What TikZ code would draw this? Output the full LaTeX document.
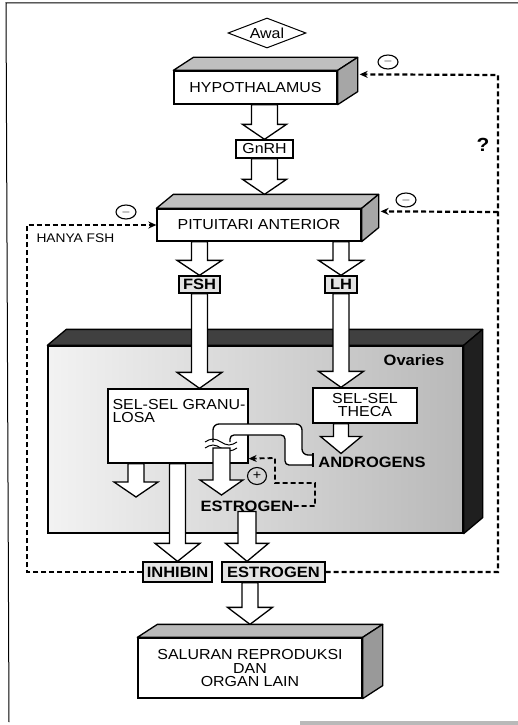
\documentclass[tikz,border=0pt]{standalone}
\usepackage{fontspec}
\setmainfont{Liberation Sans}[FakeStretch=1.1]
\usetikzlibrary{arrows.meta,calc,shapes.geometric}

\newcommand\bodyfont{\fontsize{14.5}{13}\selectfont}
\newcommand\tagfont{\fontsize{15}{15}\selectfont\bfseries}

% hollow block arrow: start, tip, half shaft, half head, head length
\newcommand\blockarrow[5]{%
  \draw[blockarrow] let \p1=#1, \p2=#2 in
    (\x1-#3,\y1) -- (\x1-#3,\y2+#5) -- (\x1-#4,\y2+#5) -- (\x1,\y2)
    -- (\x1+#4,\y2+#5) -- (\x1+#3,\y2+#5) -- (\x1+#3,\y1) -- cycle;}

% top and right faces of a box node: node, dx, dy, top fill, side fill
\newcommand\slab[5]{%
  \filldraw[fill=#4, line width=1.3pt, line join=round] (#1.north west) -- ++(#2,#3)
    -- ([shift={(#2,#3)}]#1.north east) -- (#1.north east) -- cycle;
  \filldraw[fill=#5, line width=1.3pt, line join=round] (#1.north east) -- ++(#2,#3)
    -- ([shift={(#2,#3)}]#1.south east) -- (#1.south east) -- cycle;
  \coordinate (#1back) at ([shift={(#2,#3)}]#1.north);}

\tikzset{
  box/.style={draw, line width=1.3pt, fill=white, inner sep=0pt, font=\bodyfont},
  tag/.style={box, fill=gray!22, font=\tagfont},
  blockarrow/.style={fill=white, line width=1.3pt, line join=miter},
  fbdash/.style={line width=2.2pt, dash pattern=on 5pt off 3pt, line join=miter,
    -{Stealth[length=8pt,width=7pt]}},
  sign/.style={draw, ellipse, line width=1.1pt, inner sep=0pt, minimum width=20pt,
    minimum height=14pt, font=\fontsize{13}{13}\selectfont},
}

\begin{document}
\begin{tikzpicture}[x=1pt,y=-1pt]
  \useasboundingbox (0,0) rectangle (518,725);
  \draw[line width=1pt] (518,3) -- (6,3) -- (9,722);
  \fill[gray!55] (300,721) rectangle (518,725);

  % hypothalamus
  \node[draw, diamond, aspect=2.6, line width=1pt, inner sep=0pt, minimum width=78,
    minimum height=30, font=\bodyfont] (awal) at (267,33) {Awal};
  \node[box, minimum width=163, minimum height=33] (hypo) at (255.5,87.5) {HYPOTHALAMUS};
  \slab{hypo}{20}{-13}{gray!50}{gray!70}
  \node[box, minimum width=57, minimum height=18] (gnrh) at (264.5,149) {GnRH};
  \blockarrow{(hypo.south -| gnrh.north)}{(gnrh.north)}{13}{22}{15}

  % pituitary
  \node[box, minimum width=204, minimum height=32] (pit) at (259,225) {PITUITARI ANTERIOR};
  \slab{pit}{17}{-14}{gray!50}{gray!70}
  \blockarrow{(gnrh.south)}{(gnrh.south |- pitback)}{13}{22}{15}
  \node[tag, minimum width=41, minimum height=17] (fsh) at (199.5,284.5) {FSH};
  \node[tag, minimum width=32, minimum height=17] (lh) at (341,284.5) {LH};
  \blockarrow{(pit.south -| fsh.north)}{(fsh.north)}{8}{22.5}{15}
  \blockarrow{(pit.south -| lh.north)}{(lh.north)}{8}{22.5}{15}

  % ovary
  \node[box, minimum width=415, minimum height=187, left color=gray!10,
    right color=gray!55] (ovary) at (255.5,439.5) {};
  \slab{ovary}{19}{-16}{black!75}{black!88}
  \node[font=\tagfont] (ovlbl) at (414,360) {Ovaries};
  \node[box, minimum width=140, minimum height=74] (gran) at (178,426) {};
  \node[box, minimum width=104, minimum height=35, align=center] (theca) at (365,405.5) {SEL-SEL\\THECA};
  \node[anchor=north west, align=left, inner sep=0pt, font=\bodyfont] (grantxt)
    at ([xshift=5pt,yshift=-11pt]gran.north west) {SEL-SEL GRANU-\\LOSA};
  \blockarrow{(fsh.south)}{(fsh.south |- gran.north)}{8}{22.5}{16}
  \blockarrow{(lh.south)}{(lh.south |- theca.north)}{8}{22.5}{16}
  \node[font=\tagfont, inner sep=0pt] (andro) at (372,462) {ANDROGENS};
  \blockarrow{(theca.south -| lh.south)}{([yshift=3pt]lh.south |- andro.north)}{7.5}{20.5}{17}

  % androgen tube into the granulosa cells
  \fill[white, rounded corners=5pt] (313,455) -- (302,455) -- (302,424) -- (213,424) -- (213,442)
    -- (230,442) -- (230,435) -- (285,435) -- (285,465) -- (313,465) -- cycle;
  \draw[line width=1.3pt, rounded corners=6pt] (313,455) -- (302,455) -- (302,424) -- (213,424) -- (213,442);
  \draw[line width=1.3pt, rounded corners=4pt] (230,442) -- (230,435) -- (285,435) -- (285,465) -- (313,465);
  \draw[line width=1.3pt] (313,453) -- (313,467);
  \foreach \w in {442,448}
    \draw[line width=1pt] (205,\w) sin (213,\w-3) cos (221,\w) sin (229,\w+3) cos (237,\w);
  \coordinate (brk) at (221.5,448);
  \coordinate (etip) at (221.5,495);
  \blockarrow{(brk)}{(etip)}{8.5}{21.5}{15}
  \coordinate (gout) at (136,497);
  \blockarrow{(gran.south -| gout)}{(gout)}{8}{22}{15}

  % estrogen and positive feedback
  \node[font=\tagfont, inner sep=0pt] (estro) at (247,506) {ESTROGEN};
  \node[sign, minimum width=19pt, minimum height=17pt] (plus) at (257,476) {+};
  \coordinate (pa) at (315,483);
  \coordinate (pb) at (275,458);
  \draw[fbdash, line width=1.8pt] (estro.east) -| (pa) -| (pb) -- ([yshift=5pt]gran.south east);

  % secreted hormones
  \node[tag, minimum width=69, minimum height=20] (inhib) at (177.5,572) {INHIBIN};
  \node[tag, minimum width=103, minimum height=20] (ebox) at (273.5,572) {ESTROGEN};
  \blockarrow{(gran.south -| inhib.north)}{(inhib.north)}{8}{22.5}{18}
  \blockarrow{(estro.south)}{(estro.south |- ebox.north)}{9}{21.5}{18}
  \node[box, minimum width=224, minimum height=60, align=center,
    font=\fontsize{14.5}{13.5}\selectfont] (sal) at (250,668) {SALURAN REPRODUKSI\\DAN\\ORGAN LAIN};
  \slab{sal}{20}{-13}{gray!55}{gray!80}
  \blockarrow{(ebox.south -| sal.north)}{(sal.north |- salback)}{8}{22.5}{17}

  % negative feedback
  \coordinate (rb) at (498,572);
  \coordinate (rt) at (498,75);
  \coordinate (rm) at (498,212);
  \coordinate (lb) at (27,572);
  \coordinate (lt) at (27,225);
  \draw[fbdash] (ebox.east) -- (rb) -- (rt) -- ([xshift=22pt,yshift=-4pt]hypo.north east);
  \draw[fbdash] (rm) -- ([xshift=19pt,yshift=-3pt]pit.north east);
  \draw[fbdash] (inhib.west) -- (lb) -- (lt) -- (pit.west);
  \node[sign] (m1) at (388,62) {$-$};
  \node[sign] (m2) at (406,200) {$-$};
  \node[sign] (m3) at (126,212) {$-$};
  \node[font=\fontsize{19}{19}\selectfont\bfseries] (q) at (483,145) {?};
  \node[anchor=west, font=\fontsize{12.5}{12.5}\selectfont] (hanya) at (33,238) {HANYA FSH};
\end{tikzpicture}
\end{document}
